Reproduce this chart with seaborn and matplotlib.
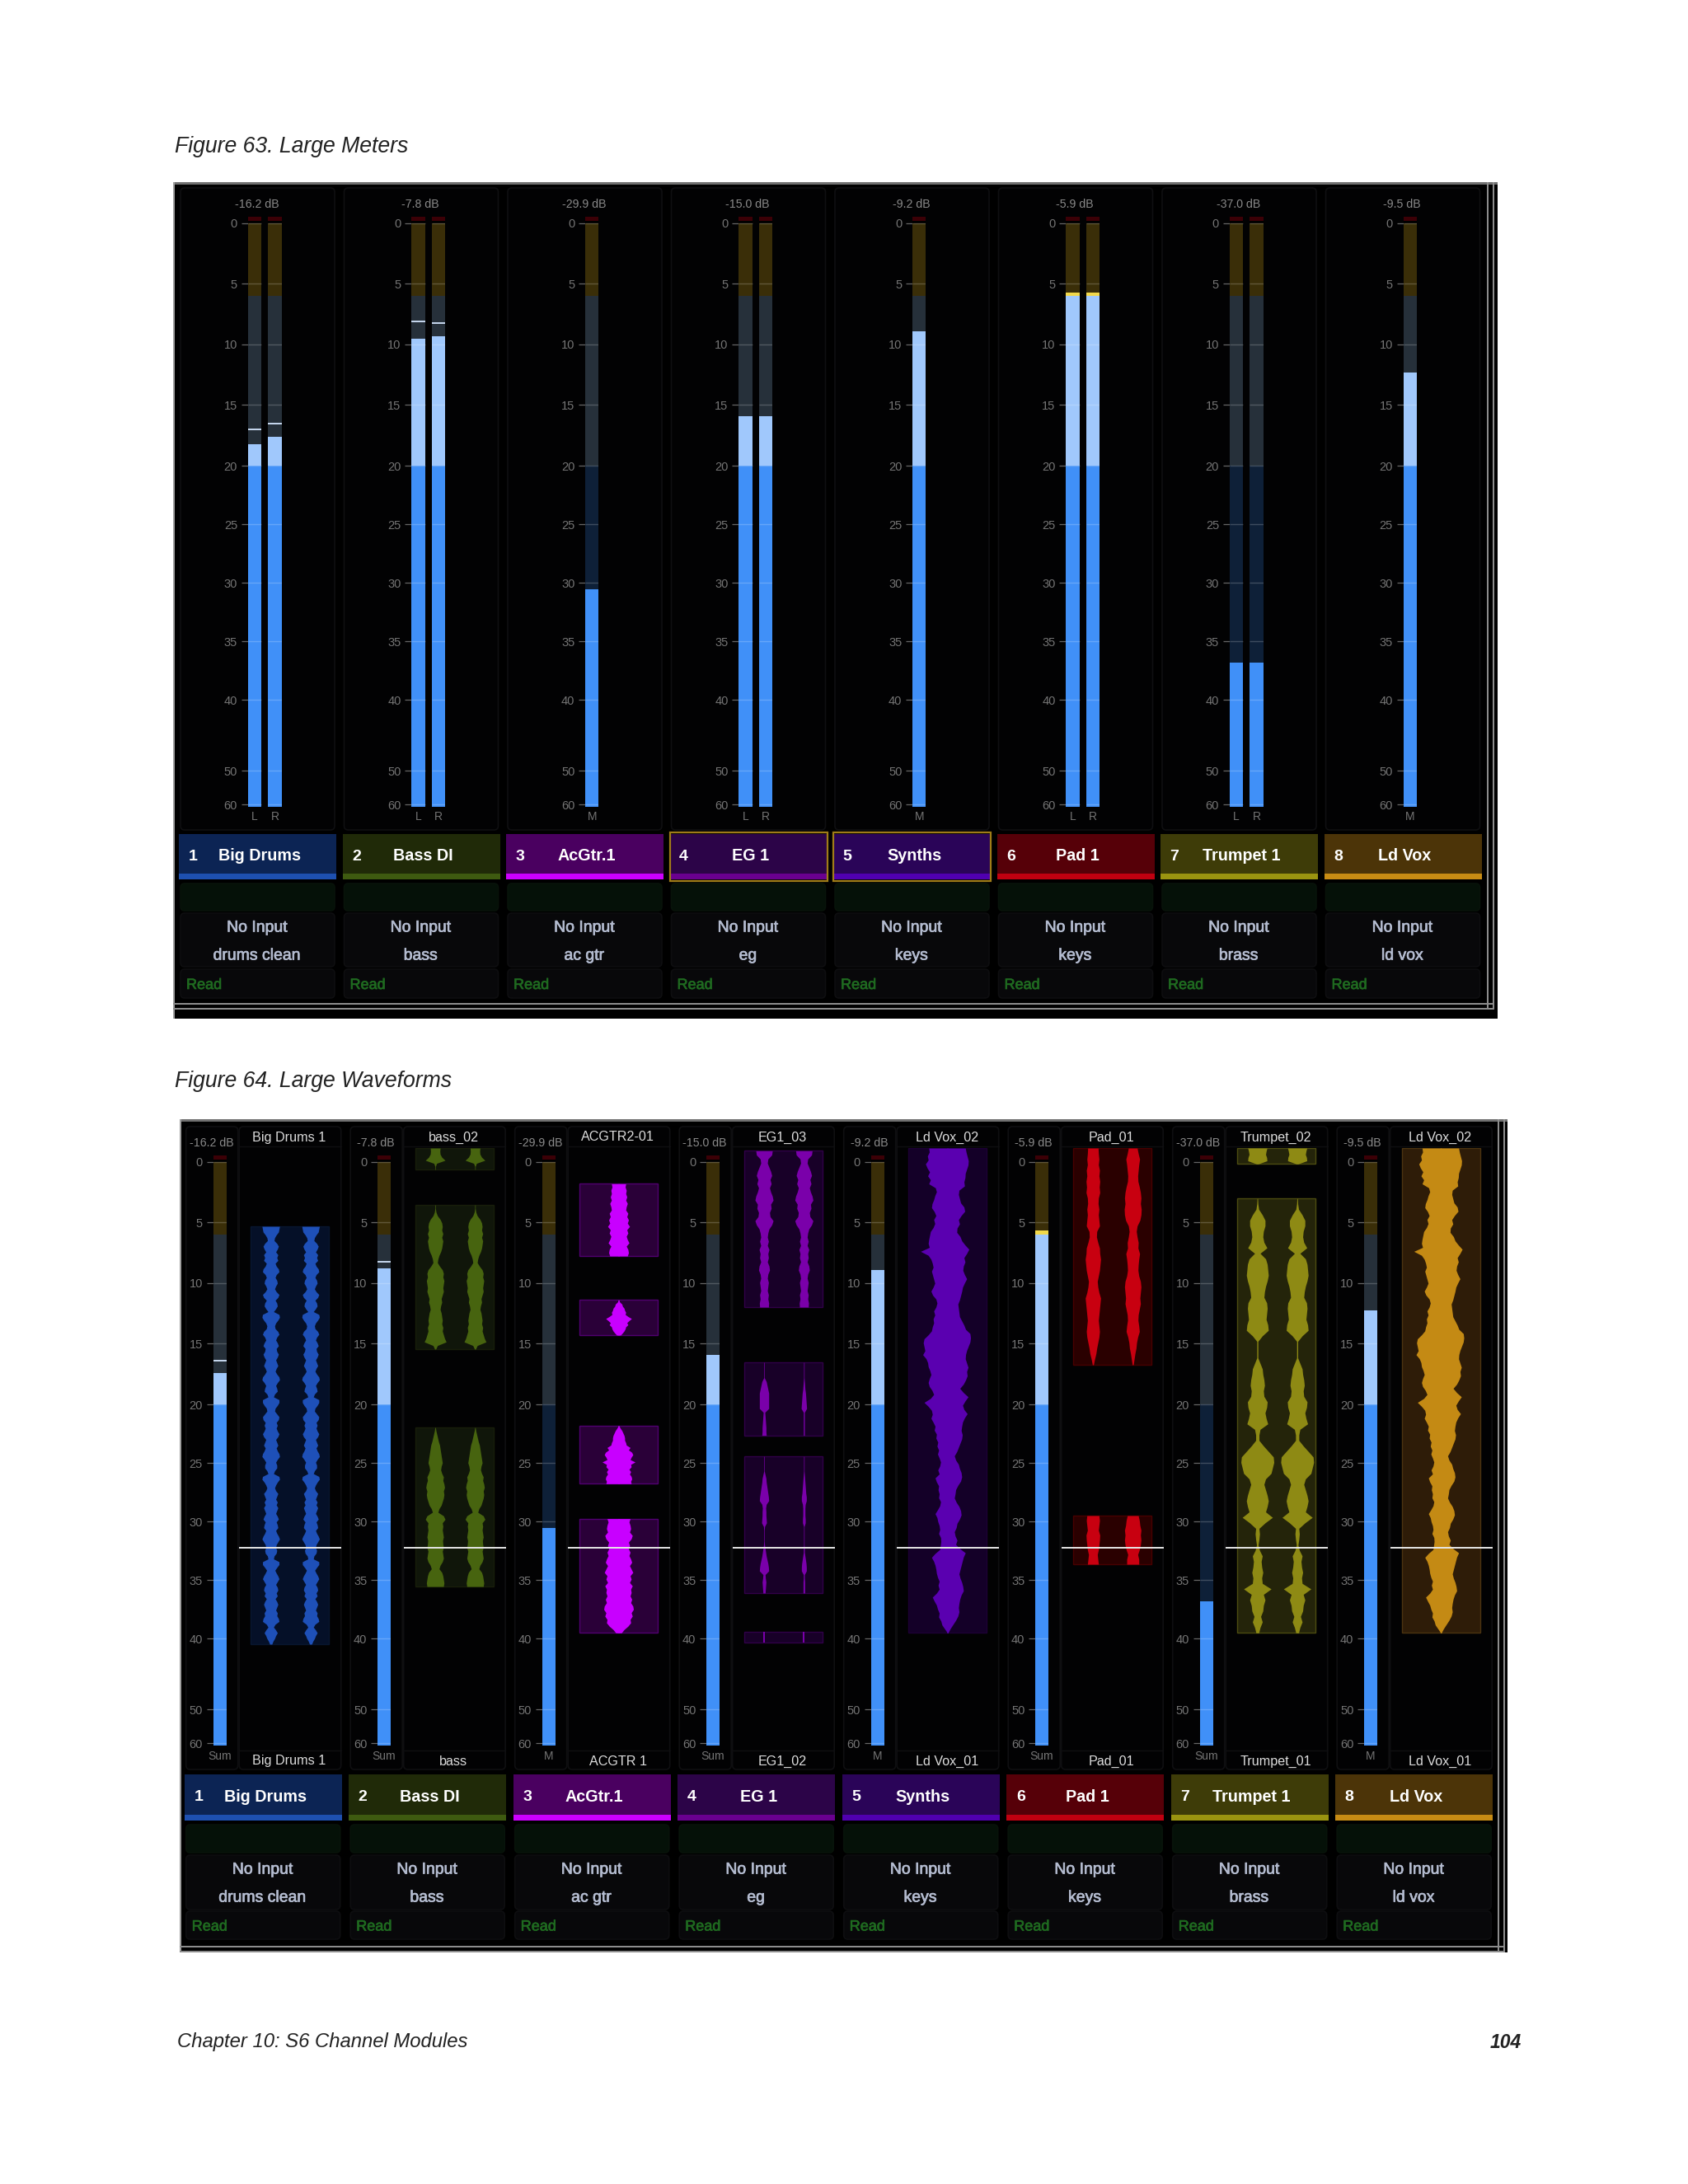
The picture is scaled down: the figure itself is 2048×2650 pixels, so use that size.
import numpy as np
import matplotlib
matplotlib.use('Agg')
import matplotlib.pyplot as plt
import matplotlib.patheffects as pe
from matplotlib.patches import FancyBboxPatch, Rectangle
import seaborn as sns

W, H = 2048, 2650

# track data
PLATES = ['Big Drums', 'Bass DI', 'AcGtr.1', 'EG 1', 'Synths', 'Pad 1', 'Trumpet 1', 'Ld Vox']
INPUTS = ['drums clean', 'bass', 'ac gtr', 'eg', 'keys', 'keys', 'brass', 'ld vox']
READOUTS = ['-16.2 dB', '-7.8 dB', '-29.9 dB', '-15.0 dB', '-9.2 dB', '-5.9 dB', '-37.0 dB', '-9.5 dB']
PLATE_COLORS = ['#0c2454', '#202a08', '#4a0060', '#2c0448', '#2a0458', '#560008', '#3e3c08', '#4c3408']
STRIPE_COLORS = ['#1e50b0', '#3e5a10', '#cc00ff', '#6a0090', '#5000b0', '#c00010', '#9a9410', '#c88c14']
WAVE_COLORS = ['#1e50b8', '#47640f', '#c800ff', '#7a00aa', '#5a00b0', '#c80010', '#8e8a14', '#c48a14']
CLIP_COLORS = ['#051028', '#10160a', '#2a0038', '#180028', '#140028', '#2a0000', '#24240a', '#2e1c08']
CLIP_EDGES = ['#081630', '#181e0a', '#500070', '#300048', '#1c0034', '#480000', '#4c4c10', '#4c3410']

# meter values, in dB below full scale
CHANNELS_63 = [['L', 'R'], ['L', 'R'], ['M'], ['L', 'R'], ['M'], ['L', 'R'], ['L', 'R'], ['M']]
LEVELS_63 = [[18.2, 17.6], [9.5, 9.3], [30.55], [15.9, 15.9], [8.9], [5.7, 5.7], [36.8, 36.8], [12.3]]
PEAKS_63 = [[17.0, 16.5], [8.1, 8.2], [], [], [], [], [], []]
CHANNELS_64 = [['Sum'], ['Sum'], ['M'], ['Sum'], ['M'], ['Sum'], ['Sum'], ['M']]
LEVELS_64 = [[17.4], [8.8], [30.55], [15.9], [8.9], [5.65], [36.8], [12.25]]
PEAKS_64 = [[16.4], [8.2], [], [], [], [], [], []]

# meter scale, not linear below -20
DB_MARKS = [0, 5, 10, 15, 20, 25, 30, 35, 40, 50, 60]
DB_POS = [0, 73.5, 147, 220.5, 294, 365, 436, 507, 578, 664, 705]
FLOOR = 60.7
DB_EXT = np.array([-10.0] + DB_MARKS + [70.0])
POS_EXT = np.array([-147.0] + DB_POS + [746.0])

# waveform names
WAVE_TOP = ['Big Drums 1', 'bass_02', 'ACGTR2-01', 'EG1_03', 'Ld Vox_02', 'Pad_01', 'Trumpet_02', 'Ld Vox_02']
WAVE_BOTTOM = ['Big Drums 1', 'bass', 'ACGTR 1', 'EG1_02', 'Ld Vox_01', 'Pad_01', 'Trumpet_01', 'Ld Vox_01']
STEREO = [True, True, False, True, False, True, True, False]
PLAYHEAD = 1456

# envelopes, evenly spaced over each clip, 3 units per screen pixel
DRUMS = [32, 30, 28, 20, 14, 12, 22, 28, 24, 18, 26, 22, 26, 16, 20, 28, 30, 20, 16, 22, 24, 18, 14, 20, 30, 26, 16, 22, 24, 18,
         10, 30, 32, 26, 18, 14, 16, 26, 30, 22, 18, 24, 28, 20, 22, 28, 24, 18, 22, 26, 20, 16, 22, 30, 32, 24, 18, 22, 24, 14, 10,
         30, 30, 24, 16, 14, 22, 30, 28, 20, 24, 20, 24, 30, 26, 18, 22, 26, 20, 24, 30, 32, 24, 18, 22, 22, 14, 10,
         30, 32, 24, 18, 14, 18, 26, 22, 18, 24, 20, 26, 22, 18, 24, 28, 20, 24, 26, 18, 22, 28, 32, 26, 20, 18, 22, 20, 12, 10,
         30, 30, 22, 15, 20, 26, 30, 24, 18, 24, 26, 20, 24, 16, 22, 26, 22, 18, 24, 22, 28, 30, 16, 10, 18, 24, 18, 14, 8, 4]

BASS_0 = [18, 17, 18, 24, 36, 5, 1, 1]
BASS_1 = [1, 1, 3, 8, 18, 24, 26, 24, 28, 24, 28, 26, 24, 20, 14, 10, 8, 16, 26, 30, 28, 32, 30, 28, 30, 26, 22, 24,
          20, 18, 22, 24, 26, 24, 28, 26, 30, 34, 40, 8, 2]
BASS_2 = [1, 3, 6, 9, 12, 16, 18, 20, 22, 24, 26, 22, 20, 24, 30, 28, 32, 34, 30, 32, 30, 26, 22, 14, 10, 30, 36, 26,
          28, 26, 28, 30, 27, 28, 30, 26, 28, 30, 26, 18, 14, 24, 28, 30, 32, 30]

GTR_1 = [26, 24, 28, 26, 30, 26, 32, 28, 26, 34, 30, 36, 32, 40, 30, 34, 28, 32, 38, 28, 34, 36, 32]
GTR_2 = [0, 4, 12, 14, 20, 22, 26, 24, 34, 47, 38, 30, 34, 26, 24, 20, 14, 7]
GTR_3 = [1, 6, 12, 16, 20, 22, 22, 26, 28, 42, 36, 48, 52, 46, 42, 60, 44, 46, 38, 44, 40, 46, 48, 44, 46]
GTR_4 = [42, 38, 42, 44, 40, 50, 46, 36, 40, 36, 42, 38, 44, 48, 40, 46, 52, 42, 46, 40, 50, 44, 46, 42, 48, 44, 52,
         54, 46, 50, 42, 44, 34, 20, 10]

EG_1 = [30, 28, 14, 12, 18, 24, 28, 22, 26, 20, 24, 30, 33, 24, 26, 20, 22, 33, 28, 18, 14, 12, 16, 12, 18, 14, 16, 12,
        18, 20, 14, 12, 16, 14, 12, 16, 14, 17, 16]
EG_2L = [1, 1, 1, 1, 1, 8, 11, 14, 17, 17, 17, 17, 17, 3, 4, 5, 6, 7, 7, 8]
EG_2R = [1, 1, 1, 1, 1, 2, 3, 4, 6, 7, 8, 9, 10, 2, 2, 2, 2, 2, 2, 2]
EG_3L = [1, 1, 1, 1, 1, 4, 7, 8, 10, 12, 14, 16, 17, 8, 6, 7, 7, 8, 9, 2, 1, 1, 1, 1, 2, 4, 6, 8, 11, 14, 16, 17, 4, 5, 7, 6, 5, 4]
EG_3R = [1, 1, 1, 1, 1, 2, 3, 4, 5, 6, 7, 9, 9, 5, 4, 4, 4, 5, 5, 1, 1, 1, 1, 1, 1, 2, 2, 4, 6, 8, 9, 9, 2, 2, 3, 3, 3, 3]
EG_4 = [3, 3]

VOX_L = [68, 66, 73, 70, 80, 74, 65, 72, 62, 68, 44, 40, 46, 50, 56, 58, 48, 42, 50, 46, 52, 62, 65, 68, 70, 66, 98, 70, 60, 55,
         52, 58, 54, 50, 46, 52, 60, 54, 42, 38, 42, 50, 46, 52, 50, 55, 58, 70, 85, 88, 85, 82, 90, 78, 72, 70, 64, 60, 66, 70,
         66, 56, 50, 62, 85, 70, 58, 55, 60, 52, 45, 48, 40, 42, 35, 38, 32, 36, 30, 25, 28, 35, 30, 45, 40, 32, 34, 30, 32, 25,
         28, 36, 45, 38, 35, 30, 28, 32, 25, 24, 26, 28, 45, 58, 50, 45, 42, 40, 36, 30, 34, 30, 40, 55, 48, 40, 36, 30, 32, 24, 20, 10, 0]
VOX_R = [65, 68, 72, 76, 75, 70, 65, 64, 60, 62, 42, 40, 44, 48, 60, 63, 50, 40, 44, 35, 34, 46, 52, 64, 78, 70, 60, 64, 58, 56,
         62, 70, 62, 55, 52, 48, 44, 38, 40, 42, 44, 52, 60, 66, 82, 84, 82, 76, 70, 66, 65, 70, 75, 70, 72, 66, 58, 45, 58, 75,
         64, 55, 60, 72, 62, 55, 52, 50, 54, 52, 46, 40, 34, 25, 30, 40, 44, 50, 52, 48, 38, 30, 28, 25, 32, 42, 48, 50, 44, 35,
         32, 25, 28, 35, 30, 45, 65, 58, 54, 50, 46, 42, 46, 52, 56, 58, 50, 45, 42, 40, 42, 38, 30, 20, 10, 2]

PAD_1L = [19, 20, 22, 20, 24, 22, 25, 23, 25, 20, 19, 22, 20, 22, 24, 14, 13, 18, 24, 25, 28, 26, 24, 20, 16, 18, 22, 28, 26, 24,
          22, 20, 22, 24, 22, 18, 14, 11, 6, 2]
PAD_1R = [16, 20, 25, 22, 20, 18, 19, 24, 28, 30, 28, 31, 30, 26, 16, 13, 16, 20, 19, 25, 22, 20, 19, 22, 28, 30, 28, 26, 28, 24,
          20, 19, 22, 24, 18, 14, 12, 8, 5, 2]
PAD_2L = [22, 24, 22, 20, 25, 24, 22, 20, 16, 18, 20]
PAD_2R = [20, 24, 26, 30, 28, 30, 28, 24, 18, 22, 22]

TRP_0 = [35, 32, 30, 34, 35, 3]
TRP_1 = [1, 2, 5, 18, 28, 28, 22, 20, 24, 35, 10, 30, 36, 38, 40, 36, 30, 26, 24, 34, 36, 34, 32, 38, 40, 18, 2, 2, 2, 2,
         10, 18, 20, 24, 26, 22, 24, 36, 34, 28, 32, 38, 10, 6, 6, 22, 40, 58, 60, 55, 50, 30, 24, 30, 36, 40, 36, 30, 55, 28,
         6, 8, 6, 3, 8, 18, 14, 16, 20, 16, 18, 50, 22, 28, 22, 20, 12, 18, 10, 5]

# clips per strip: start, end, left/first channel, right/second channel
CLIPS = [
    [(285, 1806, DRUMS, DRUMS)],
    [(0, 78, BASS_0, BASS_0), (207, 732, BASS_1, BASS_1), (1017, 1596, BASS_2, BASS_2)],
    [(130, 393, GTR_1, GTR_1), (553, 681, GTR_2, GTR_2), (1011, 1222, GTR_3, GTR_3), (1349, 1765, GTR_4, GTR_4)],
    [(10, 579, EG_1, EG_1), (780, 1046, EG_2L, EG_2R), (1122, 1620, EG_3L, EG_3R), (1761, 1800, EG_4, EG_4)],
    [(0, 1765, VOX_L, VOX_R)],
    [(0, 789, PAD_1L, PAD_1R), (1338, 1515, PAD_2L, PAD_2R)],
    [(0, 58, TRP_0, TRP_0), (183, 1765, TRP_1, TRP_1)],
    [(0, 1765, VOX_L, VOX_R)],
]

sns.set_theme(style='white')
plt.rcParams['font.family'] = ['Liberation Sans', 'DejaVu Sans']

fig = plt.figure(figsize=(W / 100, H / 100), dpi=100, facecolor='white')
bg = fig.add_axes([0, 0, 1, 1], zorder=0)
bg.set_xlim(0, W)
bg.set_ylim(H, 0)
bg.axis('off')


def px_axes(left, top, right, bottom):
    ax = fig.add_axes([left / W, 1 - bottom / H, (right - left) / W, (bottom - top) / H], zorder=2)
    ax.patch.set_alpha(0)
    return ax


def rect(x0, y0, x1, y1, color, **kw):
    bg.add_patch(Rectangle((x0, y0), x1 - x0, y1 - y0, facecolor=color, edgecolor='none', **kw))


def panel(x0, y0, x1, y1, color='#020203', edge='#0f0f11'):
    bg.add_patch(FancyBboxPatch((x0, y0), x1 - x0, y1 - y0, boxstyle='round,pad=0,rounding_size=5',
                                facecolor=color, edgecolor=edge, linewidth=1.2))


def frame(x0, y0, x1, y1, line_right, line_bottom):
    rect(x0, y0, x1, y1, 'black')
    rect(x0, y0, x1, y0 + 2.5, '#707070')
    rect(x0, y0, x0 + 1.5, y1, '#a0a0a0')
    for lx in line_right:
        rect(lx, y0, lx + 2, line_bottom[1] + 2, '#8c8c8c')
    for ly in line_bottom:
        rect(x0, ly, line_right[1] + 2, ly + 2, '#8c8c8c')


def meter_fwd(h):
    return -np.interp(FLOOR - np.asarray(h, dtype=float), DB_EXT, POS_EXT)


def meter_inv(v):
    return FLOOR - np.interp(-np.asarray(v, dtype=float), POS_EXT, DB_EXT)


def draw_meter(x0, zero_y, bar_w, channels, levels, peaks, pitch, label_pad):
    n = len(channels)
    width = bar_w / pitch
    right = x0 + bar_w + pitch * (n - 1)
    ax = px_axes(x0, zero_y - 8.3, right, zero_y + 708)

    def bars(tops, color):
        sns.barplot(x=channels, y=[FLOOR - t for t in tops], color=color, width=width,
                    saturation=1, linewidth=0, errorbar=None, ax=ax)

    # painted back to front
    bars([-0.56] * n, '#3c0006')
    bars([-0.2] * n, '#000000')
    bars([0] * n, '#3a2e08')
    bars([6] * n, '#26303a')
    bars([20] * n, '#0e2038')
    bars(levels, '#f2d84a')
    bars([max(v, 6) for v in levels], '#a0c8fc')
    bars([max(v, 20) for v in levels], '#4090f8')

    ax.set_yscale('function', functions=(meter_fwd, meter_inv))
    ax.set_ylim(0, FLOOR + 0.56)
    ax.set_xlim(-width / 2, n - 1 + width / 2)
    for i in range(n):
        ax.hlines([FLOOR - d for d in DB_MARKS], i - width / 2, i + width / 2,
                  color='white', alpha=0.2, linewidth=1)
        if peaks:
            ax.hlines(FLOOR - peaks[i], i - width / 2, i + width / 2, color='#d4e6ff', linewidth=1.3)
    ax.set_yticks([FLOOR - d for d in DB_MARKS])
    ax.set_yticklabels([str(d) for d in DB_MARKS])
    ax.minorticks_off()
    ax.tick_params(axis='y', left=True, length=5.5, width=0.9, color='#666666', pad=3.6,
                   labelcolor='#747474', labelsize=10.5)
    ax.tick_params(axis='x', bottom=False, length=0, pad=label_pad, labelcolor='#747474', labelsize=10)
    ax.set_xlabel('')
    ax.set_ylabel('')
    ax.grid(False)
    sns.despine(ax=ax, left=True, bottom=True)


def bold_text(x, y, s, color, size, **kw):
    # the screenshot text is blurred and heavier than the regular face
    bg.text(x, y, s, color=color, fontsize=size, va='center',
            path_effects=[pe.withStroke(linewidth=0.5, foreground=color)], **kw)


def draw_lower(i, left, ys, num_off=17, name_off=98, text_off=95):
    plate0, plate1, stripe, g0, g1, n0, n1, r0, r1 = ys
    rect(left, plate0, left + 191, plate1, PLATE_COLORS[i])
    rect(left, stripe, left + 191, plate1, STRIPE_COLORS[i])
    cy = (plate0 + stripe) / 2 + 3
    bg.text(left + num_off, cy, str(i + 1), color='white', fontsize=14, fontweight='bold', ha='center', va='center')
    bg.text(left + name_off, cy, PLATES[i], color='white', fontsize=14.2, fontweight='bold', ha='center', va='center')
    panel(left + 2, g0, left + 189, g1, '#051108', '#08130a')
    panel(left + 2, n0, left + 189, n1, '#08080a', '#0e0e10')
    panel(left + 2, r0, left + 189, r1, '#08080a', '#0e0e10')
    bold_text(left + text_off, n0 + 18, 'No Input', '#b4bcd0', 14, ha='center')
    bold_text(left + text_off, n0 + 52, INPUTS[i], '#b4bcd0', 14, ha='center')
    bold_text(left + 9, (r0 + r1) / 2 + 2, 'Read', '#1f6a20', 13, ha='left')


def draw_wave(i, ax):
    ax.set_xlim(0, 372)
    ax.set_ylim(2193, 0)
    ax.axis('off')
    color = WAVE_COLORS[i]
    for start, end, a, b in CLIPS[i]:
        ax.add_patch(Rectangle((42, start), 285, end - start, facecolor=CLIP_COLORS[i],
                               edgecolor=CLIP_EDGES[i], linewidth=1))
        a, b = np.array(a), np.array(b)
        ta = start + (end - start) * np.arange(len(a)) / (len(a) - 1)
        tb = start + (end - start) * np.arange(len(b)) / (len(b) - 1)
        if STEREO[i]:
            ax.fill_betweenx(ta, 115 - a, 115 + a, color=color, linewidth=0)
            ax.fill_betweenx(tb, 260 - b, 260 + b, color=color, linewidth=0)
        else:
            ax.fill_betweenx(ta, 184 - a, 186, color=color, linewidth=0)
            ax.fill_betweenx(tb, 182, 184 + b, color=color, linewidth=0)
    ax.axhline(PLAYHEAD, color='#e8e8e8', linewidth=1.4)


# page text
bg.text(212, 185, 'Figure 63. Large Meters', style='italic', fontsize=19.2, color='#222222', va='baseline')
bg.text(212, 1319, 'Figure 64. Large Waveforms', style='italic', fontsize=19.2, color='#222222', va='baseline')
bg.text(215, 2484, 'Chapter 10: S6 Channel Modules', style='italic', fontsize=17.2, color='#222222', va='baseline')
bg.text(1846, 2485, '104', style='italic', fontweight='bold', fontsize=16.5, color='#222222', ha='right', va='baseline')

# figure 63
frame(210, 221, 1817, 1236, (1804, 1811), (1217, 1223))
for i in range(8):
    left = 217 + 198.5 * i
    panel(left + 2, 228, left + 189, 1007)
    bg.text(left + 94.5, 248, READOUTS[i], color='#8a8a8a', fontsize=10.2, ha='center', va='center')
    stereo = len(CHANNELS_63[i]) == 2
    draw_meter(left + (83.7 if stereo else 96), 271, 16.3, CHANNELS_63[i], LEVELS_63[i], PEAKS_63[i], 24.7, 3.5)
    draw_lower(i, left, (1012, 1067, 1060, 1072, 1105, 1108, 1173, 1176, 1211))
    if i in (3, 4):
        bg.add_patch(Rectangle((left, 1010), 191, 59, facecolor='none', edgecolor='#a07c18', linewidth=1.6))

# figure 64
frame(218, 1358, 1829, 2369, (1817, 1824), (2361, 2367))
for i in range(8):
    left = 223.7 + 199.5 * i
    panel(left + 2, 1367, left + 65, 2147)
    panel(left + 66.5, 1367, left + 190, 2147)
    bg.plot([left + 66.5, left + 190], [1391, 1391], color='#0f0f11', linewidth=1)
    bg.plot([left + 66.5, left + 190], [2124, 2124], color='#0f0f11', linewidth=1)
    bg.text(left + 33, 1387, READOUTS[i], color='#8a8a8a', fontsize=10.2, ha='center', va='center')
    bg.text(left + 127, 1380, WAVE_TOP[i], color='#dddddd', fontsize=11.6, ha='center', va='center')
    bg.text(left + 127, 2137, WAVE_BOTTOM[i], color='#dddddd', fontsize=11.6, ha='center', va='center')
    draw_meter(left + 34.8, 1410, 16.2, CHANNELS_64[i], LEVELS_64[i], PEAKS_64[i], 24.7, 4)
    draw_wave(i, px_axes(left + 66.5, 1393, left + 190.5, 2124))
    draw_lower(i, left, (2153, 2209, 2202, 2214, 2248, 2251, 2317, 2319, 2353))

fig.savefig('out.png', dpi=100)
